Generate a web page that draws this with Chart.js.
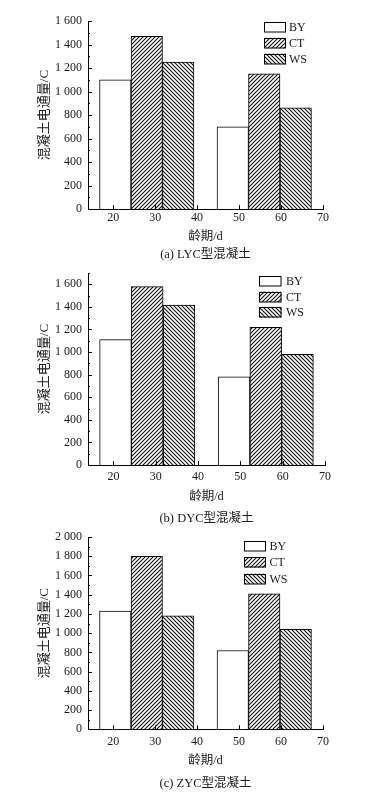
<!DOCTYPE html>
<html>
<head>
<meta charset="utf-8">
<title>混凝土电通量</title>
<script src="https://cdn.jsdelivr.net/npm/chart.js@4.4.1/dist/chart.umd.min.js"></script>
<style>
  html, body { margin: 0; padding: 0; background: #fff; }
  #page { position: relative; width: 368px; height: 797px; overflow: hidden; }
  .panel { position: absolute; left: 0; width: 368px; }
  canvas { display: block; }
</style>
</head>
<body>
<div id="page">
  <div class="panel" style="top:0;height:268px"><canvas id="chart-lyc" width="368" height="268"></canvas></div>
  <div class="panel" style="top:268px;height:262px"><canvas id="chart-dyc" width="368" height="262"></canvas></div>
  <div class="panel" style="top:530px;height:267px"><canvas id="chart-zyc" width="368" height="267"></canvas></div>
</div>
<script>
  // Test ages (d) and series names
  const ageGroups = [28, 56];
  const seriesLabels = ['BY', 'CT', 'WS'];
  const xTickValues = [20, 30, 40, 50, 60, 70];

  // Charge passed (C)
  const lycBY = [1100, 700];
  const lycCT = [1470, 1150];
  const lycWS = [1250, 860];

  const dycBY = [1110, 780];
  const dycCT = [1580, 1220];
  const dycWS = [1415, 980];

  const zycBY = [1230, 820];
  const zycCT = [1800, 1410];
  const zycWS = [1180, 1040];

  const yTicksLyc = [0, 200, 400, 600, 800, 1000, 1200, 1400, 1600];
  const yTicksDyc = [0, 200, 400, 600, 800, 1000, 1200, 1400, 1600];
  const yTicksZyc = [0, 200, 400, 600, 800, 1000, 1200, 1400, 1600, 1800, 2000];

  const captions = ['(a) LYC型混凝土', '(b) DYC型混凝土', '(c) ZYC型混凝土'];

  const TEXT = '#1a1a1a';
  const SERIF = '"Liberation Serif", "Noto Sans CJK SC", serif';
  // bars of one age sit side by side, one bar width apart (axis units)
  const barStep = 7.5;

  Chart.defaults.font.family = SERIF;
  Chart.defaults.color = TEXT;

  // Diagonal hatch fill for the bars
  function hatch(forward) {
    const s = 4;
    const c = document.createElement('canvas');
    c.width = s; c.height = s;
    const g = c.getContext('2d');
    g.fillStyle = '#fff';
    g.fillRect(0, 0, s, s);
    g.strokeStyle = '#111';
    g.lineWidth = 1.1;
    g.beginPath();
    if (forward) {
      g.moveTo(-1, s + 1); g.lineTo(s + 1, -1);
      g.moveTo(-1, 1); g.lineTo(1, -1);
      g.moveTo(s - 1, s + 1); g.lineTo(s + 1, s - 1);
    } else {
      g.moveTo(-1, -1); g.lineTo(s + 1, s + 1);
      g.moveTo(s - 1, -1); g.lineTo(s + 1, 1);
      g.moveTo(-1, s - 1); g.lineTo(1, s + 1);
    }
    g.stroke();
    return g.createPattern(c, 'repeat');
  }

  // Tick marks pointing into the plot, minor ticks on y
  const inwardTicks = {
    id: 'inwardTicks',
    afterDatasetsDraw(chart) {
      const {ctx, chartArea, scales} = chart;
      const x = scales.x, y = scales.y;
      const yt = y.ticks.map(t => t.value);
      const half = (yt[1] - yt[0]) / 2;
      ctx.save();
      ctx.strokeStyle = '#000';
      ctx.lineWidth = 1;
      ctx.beginPath();
      for (let v = y.min; v <= y.max + 1e-6; v += half) {
        const py = Math.round(y.getPixelForValue(v)) + 0.5;
        const len = yt.includes(v) ? 4 : 2;
        ctx.moveTo(chartArea.left, py);
        ctx.lineTo(chartArea.left + len, py);
      }
      x.ticks.forEach(t => {
        const px = Math.round(x.getPixelForValue(t.value)) + 0.5;
        ctx.moveTo(px, chartArea.bottom);
        ctx.lineTo(px, chartArea.bottom - 4);
      });
      ctx.stroke();
      ctx.restore();
    }
  };

  // Legend inside the plot, boxes filled like the bars
  const boxLegend = {
    id: 'boxLegend',
    afterDraw(chart, args, opts) {
      const {ctx} = chart;
      ctx.save();
      ctx.font = '12px ' + SERIF;
      ctx.textBaseline = 'middle';
      chart.data.datasets.forEach((ds, i) => {
        const top = opts.y + i * opts.step;
        ctx.fillStyle = ds.backgroundColor;
        ctx.fillRect(opts.x, top, opts.w, opts.h);
        ctx.strokeStyle = '#000';
        ctx.lineWidth = 1;
        ctx.strokeRect(Math.round(opts.x) + 0.5, Math.round(top) + 0.5, opts.w - 1, opts.h - 1);
        ctx.fillStyle = TEXT;
        ctx.fillText(ds.label, opts.textX, top + opts.h / 2 + 0.5);
      });
      ctx.restore();
    }
  };

  function fmtThousands(v) {
    if (v < 1000) return String(v);
    return Math.floor(v / 1000) + ' ' + String(v % 1000).padStart(3, '0');
  }

  const panels = [
    {
      id: 'chart-lyc', caption: captions[0], series: [lycBY, lycCT, lycWS],
      yTicks: yTicksLyc, yMax: 1600,
      H: 268, plotTop: 21, plotBottom: 209, plotRight: 323,
      tickLabelY: 218.3, axisTitleY: 237, captionY: 255,
      legend: {x: 264, y: 22, w: 22, h: 10.5, step: 15.8, textX: 289}
    },
    {
      id: 'chart-dyc', caption: captions[1], series: [dycBY, dycCT, dycWS],
      yTicks: yTicksDyc, yMax: 1700,
      H: 262, plotTop: 5, plotBottom: 197, plotRight: 325,
      tickLabelY: 208.7, axisTitleY: 228.7, captionY: 250.3,
      legend: {x: 259, y: 8, w: 22.5, h: 10.5, step: 15.6, textX: 286}
    },
    {
      id: 'chart-zyc', caption: captions[2], series: [zycBY, zycCT, zycWS],
      yTicks: yTicksZyc, yMax: 2000,
      H: 267, plotTop: 7, plotBottom: 199.3, plotRight: 323,
      tickLabelY: 212, axisTitleY: 231, captionY: 253.3,
      legend: {x: 244, y: 11, w: 22, h: 10.5, step: 16.3, textX: 269.5}
    }
  ];

  const fills = ['#ffffff', hatch(true), hatch(false)];

  panels.forEach(p => {
    const captionLH = 15;       // 12.5px * 1.2
    const captionPad = p.H - captionLH / 2 - p.captionY;
    const xScaleBottom = p.captionY - captionLH / 2;
    const axisTitlePad = xScaleBottom - 7.5 - p.axisTitleY;
    const tickPad = p.tickLabelY - p.plotBottom - 7.2;

    const datasets = seriesLabels.map((label, s) => ({
      label: label,
      data: ageGroups.map((age, i) => ({x: age + (s - 1) * barStep, y: p.series[s][i]})),
      backgroundColor: fills[s],
      borderColor: '#000',
      borderWidth: 1,
      categoryPercentage: 1,
      barPercentage: 1
    }));

    new Chart(document.getElementById(p.id), {
      type: 'bar',
      data: {datasets: datasets},
      plugins: [inwardTicks, boxLegend],
      options: {
        responsive: false,
        animation: false,
        layout: {padding: {left: 37, top: p.plotTop, right: 368 - p.plotRight, bottom: 0}},
        plugins: {
          legend: {display: false},
          tooltip: {enabled: false},
          title: {
            display: true,
            fullSize: false,
            position: 'bottom',
            text: p.caption,
            color: TEXT,
            font: {size: 12.5, weight: 'normal', lineHeight: 1.2},
            padding: {top: 0, bottom: captionPad}
          },
          boxLegend: p.legend
        },
        scales: {
          x: {
            type: 'linear',
            offset: false,
            stacked: true,
            min: 14,
            max: 70,
            z: 1,
            afterBuildTicks: s => { s.ticks = xTickValues.map(v => ({value: v})); },
            afterFit: s => {
              s.height = xScaleBottom - p.plotBottom;
              s.paddingLeft = 0;
              s.paddingRight = 0;
            },
            grid: {display: false, drawTicks: false, offset: false},
            border: {display: true, color: '#000', width: 1},
            ticks: {padding: tickPad, color: TEXT, font: {size: 12, lineHeight: 1.2}, maxRotation: 0},
            title: {
              display: true,
              text: '龄期/d',
              color: TEXT,
              font: {size: 12.5, lineHeight: 1.2},
              padding: {top: 0, bottom: axisTitlePad}
            }
          },
          y: {
            min: 0,
            max: p.yMax,
            z: 1,
            afterBuildTicks: s => { s.ticks = p.yTicks.map(v => ({value: v})); },
            afterFit: s => {
              s.width = 51;
              s.paddingTop = 0;
              s.paddingBottom = 0;
            },
            grid: {display: false, drawTicks: false},
            border: {display: true, color: '#000', width: 1},
            ticks: {padding: 6, color: TEXT, font: {size: 12, lineHeight: 1.2}, callback: v => fmtThousands(v)},
            title: {
              display: true,
              text: '混凝土电通量/C',
              color: TEXT,
              font: {size: 13, lineHeight: 1.2},
              padding: {top: 0, bottom: 0}
            }
          }
        }
      }
    });
  });
</script>
</body>
</html>
